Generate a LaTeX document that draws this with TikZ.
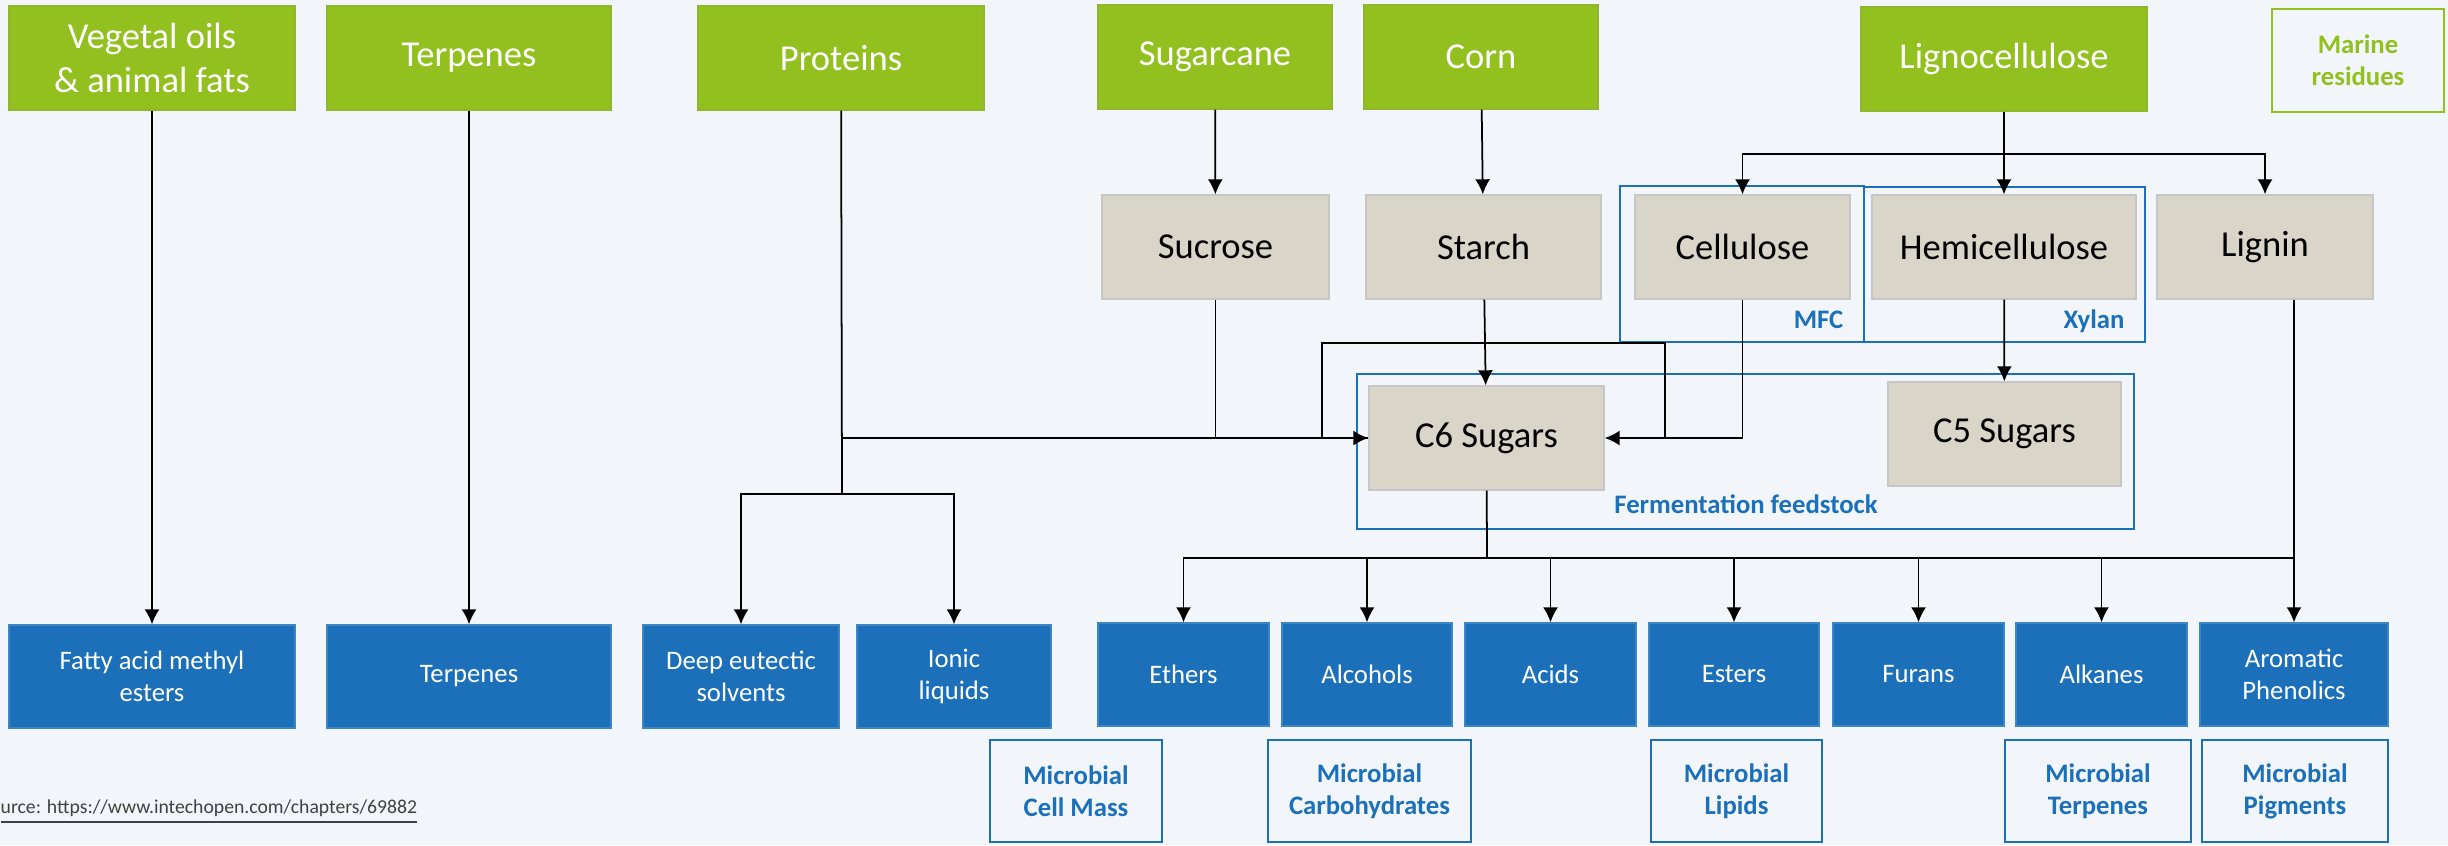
\documentclass[tikz,border=0pt]{standalone}
\usepackage{fontspec}
\setmainfont{Carlito}
\usetikzlibrary{arrows.meta,calc}
\definecolor{leafgreen}{RGB}{146,192,31}
\definecolor{sandgrey}{RGB}{217,213,201}
\definecolor{chemblue}{RGB}{28,112,185}
\definecolor{pagebg}{RGB}{242,246,250}
\begin{document}
\begin{tikzpicture}[
  >={Latex[length=0.15cm,width=0.15cm]},
  src/.style={draw=leafgreen!85!gray, fill=leafgreen, text=white, align=center, minimum height=1.04cm, inner sep=0pt, font=\fontsize{10.4}{12.4}\selectfont},
  poly/.style={draw=gray!45, fill=sandgrey, align=center, minimum height=1.04cm, inner sep=0pt, font=\fontsize{10.4}{12.4}\selectfont},
  prod/.style={draw=chemblue!85!white, fill=chemblue, text=white, align=center, minimum height=1.03cm, inner sep=0pt, font=\fontsize{7.6}{9.1}\selectfont},
  micro/.style={draw=chemblue, line width=0.8pt, text=chemblue, align=center, minimum height=1.02cm, inner sep=0pt, font=\fontsize{7.6}{9.1}\selectfont\bfseries},
  grp/.style={draw=chemblue, line width=0.8pt, inner sep=0pt},
  grptxt/.style={text=chemblue, inner sep=0pt, font=\fontsize{7.6}{9}\selectfont\bfseries},
  link/.style={line width=0.5pt}
]
  \fill[pagebg] (0,0) rectangle (24.48,-8.45);
  \useasboundingbox (0,0) rectangle (24.48,-8.45);

  \node[grp, minimum width=2.44cm, minimum height=1.56cm] (mfc) at (17.42,-2.64) {};
  \node[grp, minimum width=2.81cm, minimum height=1.55cm] (xyl) at (20.045,-2.645) {};
  \node[grp, minimum width=7.77cm, minimum height=1.55cm] (ferm) at (17.455,-4.515) {};
  \node[grptxt, anchor=base east] (mfclbl) at (18.44,-3.28) {MFC};
  \node[grptxt, anchor=base east] (xyllbl) at (21.25,-3.28) {Xylan};
  \node[grptxt, anchor=base] (fermlbl) at (17.46,-5.13) {Fermentation feedstock};

  \node[src, minimum width=2.86cm] (veg) at (1.52,-0.58) {Vegetal oils\\\& animal fats};
  \node[src, minimum width=2.84cm] (terp) at (4.69,-0.58) {Terpenes};
  \node[src, minimum width=2.86cm] (prot) at (8.41,-0.58) {Proteins};
  \node[src, minimum width=2.34cm] (cane) at (12.15,-0.57) {Sugarcane};
  \node[src, minimum width=2.34cm] (corn) at (14.81,-0.57) {Corn};
  \node[src, minimum width=2.86cm] (ligno) at (20.04,-0.59) {Lignocellulose};
  \node[draw=leafgreen, line width=0.7pt, text=leafgreen, align=center, minimum width=1.72cm, minimum height=1.03cm, inner sep=0pt, font=\fontsize{7.6}{9.1}\selectfont\bfseries] (marine) at (23.58,-0.605) {Marine\\residues};

  \node[poly, minimum width=2.27cm] (sucr) at (12.155,-2.47) {Sucrose};
  \node[poly, minimum width=2.35cm] (starch) at (14.835,-2.47) {Starch};
  \node[poly, minimum width=2.15cm] (cell) at (17.425,-2.47) {Cellulose};
  \node[poly, minimum width=2.64cm] (hemi) at (20.04,-2.47) {Hemicellulose};
  \node[poly, minimum width=2.16cm] (lign) at (22.65,-2.47) {Lignin};
  \node[poly, minimum width=2.35cm] (c6) at (14.865,-4.38) {C6 Sugars};
  \node[poly, minimum width=2.33cm] (c5) at (20.045,-4.34) {C5 Sugars};

  \node[prod, minimum width=2.86cm] (fame) at (1.52,-6.765) {Fatty acid methyl\\esters};
  \node[prod, minimum width=2.84cm] (terpout) at (4.69,-6.765) {Terpenes};
  \node[prod, minimum width=1.96cm] (des) at (7.41,-6.765) {Deep eutectic\\solvents};
  \node[prod, minimum width=1.94cm] (ionic) at (9.54,-6.765) {Ionic\\liquids};
  \node[prod, minimum width=1.71cm] (eth) at (11.835,-6.745) {Ethers};
  \node[prod, minimum width=1.70cm] (alc) at (13.67,-6.745) {Alcohols};
  \node[prod, minimum width=1.71cm] (acid) at (15.505,-6.745) {Acids};
  \node[prod, minimum width=1.70cm] (est) at (17.34,-6.745) {Esters};
  \node[prod, minimum width=1.71cm] (fur) at (19.185,-6.745) {Furans};
  \node[prod, minimum width=1.71cm] (alk) at (21.015,-6.745) {Alkanes};
  \node[prod, minimum width=1.88cm] (arom) at (22.94,-6.745) {Aromatic\\Phenolics};

  \node[micro, minimum width=1.72cm] (mcell) at (10.76,-7.91) {Microbial\\Cell Mass};
  \node[micro, minimum width=2.03cm] (mcarb) at (13.695,-7.91) {Microbial\\Carbohydrates};
  \node[micro, minimum width=1.71cm] (mlip) at (17.365,-7.91) {Microbial\\Lipids};
  \node[micro, minimum width=1.86cm] (mterp) at (20.98,-7.91) {Microbial\\Terpenes};
  \node[micro, minimum width=1.86cm] (mpig) at (22.95,-7.91) {Microbial\\Pigments};

  \node[anchor=west, inner sep=0pt, text=black!75, font=\fontsize{5.6}{6.5}\selectfont] (srcref) at (0,-8.12) {\underline{urce: https://www.intechopen.com/chapters/69882}};

  \coordinate (pfork) at (8.42,-4.94);
  \coordinate (pjoin) at (8.42,-4.38);
  \coordinate (lsplit) at (20.04,-1.54);
  \coordinate (loopa) at (16.65,-4.38);
  \coordinate (loopb) at (13.22,-3.43);
  \coordinate (bus) at (14.87,-5.58);

  \draw[link,->] (veg) -- (fame);
  \draw[link,->] (terp) -- (terpout);
  \draw[link] (prot) -- (pfork);
  \draw[link,->] (pfork) -| (des);
  \draw[link,->] (pfork) -| (ionic);
  \draw[link,->] (pjoin) -- (c6.west);
  \draw[link,->] (cane) -- (sucr);
  \draw[link,->] (corn) -- (starch);
  \draw[link] (sucr) |- (c6);
  \draw[link,->] (starch) -- (c6);
  \draw[link,->] (ligno) -- (hemi);
  \draw[link,->] (lsplit) -| (cell);
  \draw[link,->] (lsplit) -| (lign);
  \draw[link,->] (cell) |- (c6);
  \draw[link] (loopa) |- (loopb) |- (c6.west);
  \draw[link,->] (hemi) -- (c5);
  \draw[link] (c6) -- (bus);
  \draw[link] (bus) -- (bus -| arom);
  \foreach \p in {eth,alc,acid,est,fur,alk}
    \draw[link,->] (bus) -| (\p);
  \draw[link,->] (lign.south -| arom) -- (arom);
\end{tikzpicture}
\end{document}
